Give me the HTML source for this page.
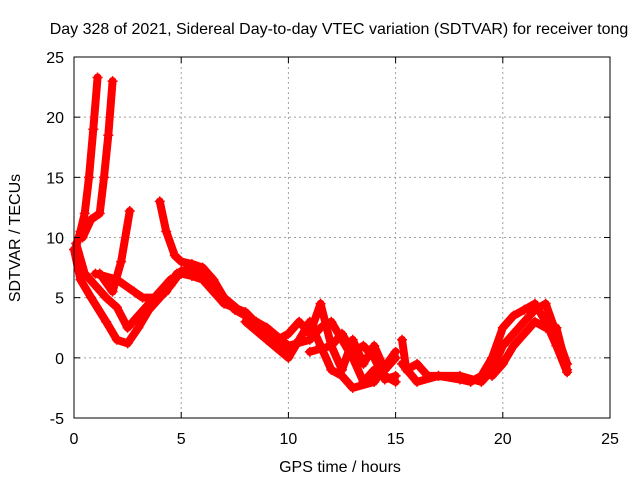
<!DOCTYPE html>
<html><head><meta charset="utf-8"><style>
body{margin:0;background:#fff;}
svg text{font-family:"Liberation Sans",sans-serif;font-size:16px;fill:#000;}
</style></head><body>
<svg id="chart" width="640" height="480" xmlns="http://www.w3.org/2000/svg">
<text x="339" y="34" text-anchor="middle">Day 328 of 2021, Sidereal Day-to-day VTEC variation (SDTVAR) for receiver tong</text>
<text x="340" y="472" text-anchor="middle">GPS time / hours</text>
<text transform="translate(20,238) rotate(-90)" text-anchor="middle">SDTVAR / TECUs</text>
<g id="grid"></g><g id="marks"></g><g id="axes"></g>
</svg>
<script>
const xTicks=[0,5,10,15,20,25];
const yTicks=[-5,0,5,10,15,20,25];
const trackA=[[0.05,9],[0.3,10.5],[0.5,12],[0.7,15],[0.9,19],[1.1,23.3]];
const trackB=[[0.4,10],[0.8,11.5],[1.2,12],[1.4,15],[1.6,18.5],[1.8,23]];
const trackC=[[0,9],[0.3,6.5],[0.8,5],[1.5,3],[2,1.5],[2.5,1.2],[3,2.5],[3.5,4],[4,5],[4.5,6],[5,7.2],[5.5,7.5],[6,7],[6.5,6],[7,5],[8,3.5],[9,2.5],[10,1],[11,1.5],[11.5,2.5],[12,3],[13,0],[13.5,-2],[14,-1],[15,-2]];
const trackD=[[0.1,9.5],[0.5,7],[1,6],[1.5,5],[2,4.2],[2.5,2.5],[3,3.5],[3.5,4.5],[4,5.5],[4.5,6.5],[5,7],[5.5,6.8],[6,6.5],[7,4.5],[8,3.8],[9,2],[10,0.5]];
const trackE=[[1.2,7],[1.8,5.5],[2.2,8],[2.6,12.2]];
const trackF=[[4,13],[4.3,10.5],[4.7,8.5],[5,8],[5.5,7.8],[6,7.5],[6.5,6.5],[7,5],[7.5,4],[8,3.5],[8.5,3],[9,2],[9.5,1.5],[10,2],[10.5,3],[11,2],[11.5,4.5],[12,1],[12.5,-1],[13,1.5],[13.5,-0.5],[14,1],[14.5,-1],[15,0]];
const trackG=[[1,7],[2,6.5],[2.8,5.5],[3.2,5],[3.8,5],[4.3,5.5],[4.8,7],[5.5,7],[6,6.8]];
const trackH=[[8,3],[9,1.5],[10,0],[10.5,1.5],[11,3],[11.5,1],[12,-1],[12.5,-1.5],[13,-2.5],[14,-2],[15,0.5]];
const trackI=[[11,0.5],[12,1],[12.5,2],[13,0.5],[13.5,1],[14,0],[14.5,-1.8],[15,-1.5]];
const trackJ=[[15.3,1.5],[15.5,-1],[16,-0.5],[16.5,-1.5],[17,-1.5],[18,-1.8],[18.5,-2],[19,-1.5],[19.5,0],[20,2.5],[20.5,3.5],[21,4],[21.5,4.5],[22,3],[22.5,1],[23,-1.2]];
const trackK=[[15.3,-0.5],[16,-2],[17,-1.5],[18,-1.5],[19,-2],[19.5,-1],[20,1],[20.5,2],[21,3],[21.5,4],[22,4.5],[22.5,2],[23,-0.5]];
const trackL=[[19.5,-1.5],[20,-0.5],[20.5,1],[21,2],[21.5,3],[22,2.5],[22.5,2.5],[23,-1]];
const tracks=[trackA,trackB,trackC,trackD,trackE,trackF,trackG,trackH,trackI,trackJ,trackK,trackL];
const X0=74,X1=610,Y0=418,Y1=57;
const sx=h=>X0+(h-0)/(25-0)*(X1-X0);
const sy=v=>Y0-(v+5)/(25+5)*(Y0-Y1);
const NS="http://www.w3.org/2000/svg";
function mk(t,a){const e=document.createElementNS(NS,t);for(const k in a)e.setAttribute(k,a[k]);return e;}
const grid=document.getElementById('grid'),marks=document.getElementById('marks'),axes=document.getElementById('axes');
xTicks.forEach(t=>{const x=sx(t);
 if(t>0&&t<25){const g=mk('line',{x1:x,x2:x,y1:Y1,y2:Y0,stroke:'#a0a0a0','stroke-dasharray':'2,3'});
 
 grid.appendChild(g);}
 axes.appendChild(mk('line',{x1:x,x2:x,y1:Y0,y2:Y0-6,stroke:'#000'}));
 axes.appendChild(mk('line',{x1:x,x2:x,y1:Y1,y2:Y1+6,stroke:'#000'}));
 const l=mk('text',{x:x,y:Y0+26,'text-anchor':'middle'});l.textContent=t;
 
 axes.appendChild(l);});
yTicks.forEach(t=>{const y=sy(t);
 if(t>-5&&t<25){const g=mk('line',{x1:X0,x2:X1,y1:y,y2:y,stroke:'#a0a0a0','stroke-dasharray':'2,3'});
 
 grid.appendChild(g);}
 axes.appendChild(mk('line',{x1:X0,x2:X0+6,y1:y,y2:y,stroke:'#000'}));
 axes.appendChild(mk('line',{x1:X1,x2:X1-6,y1:y,y2:y,stroke:'#000'}));
 const l=mk('text',{x:X0-10,y:y+6,'text-anchor':'end'});l.textContent=t;
 
 axes.appendChild(l);});
const frame=mk('rect',{x:X0,y:Y1,width:X1-X0,height:Y0-Y1,fill:'none',stroke:'#000'});


axes.appendChild(frame);
tracks.forEach(tr=>{
 const pl=mk('polyline',{points:tr.map(p=>sx(p[0])+','+sy(p[1])).join(' '),fill:'none',stroke:'#ff0000','stroke-width':8,'stroke-linejoin':'round','stroke-linecap':'round'});
 
 
 marks.appendChild(pl);
 tr.forEach(p=>{const x=sx(p[0]),y=sy(p[1]);
  const m=mk('path',{d:`M${x-5},${y}H${x+5}M${x},${y-5}V${y+5}`,stroke:'#ff0000','stroke-width':1.5});
  
  
  marks.appendChild(m);});
});
</script>
</body></html>
